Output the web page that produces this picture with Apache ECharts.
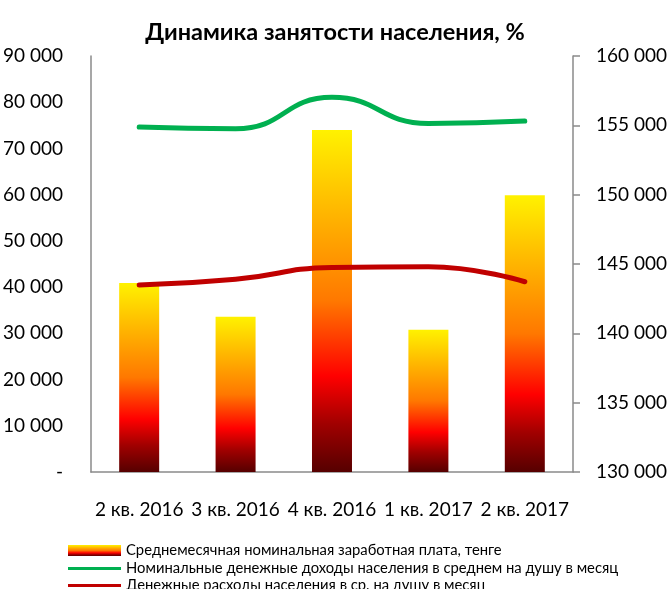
<!DOCTYPE html>
<html>
<head>
<meta charset="utf-8">
<script src="https://cdn.jsdelivr.net/npm/echarts@6/dist/echarts.min.js"></script>
<style>
  html, body { margin: 0; padding: 0; background: #fff; }
  #chart { width: 670px; height: 589px; }
</style>
</head>
<body>
<div id="chart"></div>
<script>
// данные графика
const categories = ['2 кв. 2016', '3 кв. 2016', '4 кв. 2016', '1 кв. 2017', '2 кв. 2017'];
const salary = [40900, 33600, 74000, 30800, 59900];
const income = [154880, 154750, 157020, 155130, 155310];
const expenses = [143480, 143900, 144750, 144800, 143720];

const seriesNames = [
  'Среднемесячная номинальная заработная плата, тенге',
  'Номинальные денежные доходы населения в среднем на душу в месяц',
  'Денежные расходы населения в ср. на душу в месяц'
];

const font = 'Lato, "Noto Sans", sans-serif';

function fmt(v) {
  if (v === 0) return '-';
  return String(v).replace(/\B(?=(\d{3})+(?!\d))/g, ' ');
}

const barGradient = new echarts.graphic.LinearGradient(0, 0, 0, 1, [
  { offset: 0, color: '#fff200' },
  { offset: 0.25, color: '#ffb400' },
  { offset: 0.5, color: '#ff7800' },
  { offset: 0.72, color: '#ff0000' },
  { offset: 0.86, color: '#a00000' },
  { offset: 1, color: '#560000' }
]);

// одна легенда на строку, чтобы не переносилась в колонку
function legendRow(name, top, iconHeight) {
  return {
    orient: 'horizontal',
    left: 68,
    top: top,
    padding: 0,
    icon: 'rect',
    itemWidth: 53,
    itemHeight: iconHeight,
    textStyle: { fontFamily: font, fontSize: 14.8, color: '#000' },
    data: [name]
  };
}

let myChart = echarts.init(document.getElementById('chart'));
let option = {
  animation: false,
  title: {
    text: 'Динамика занятости населения, %',
    left: 'center',
    top: 15,
    textStyle: { fontFamily: font, fontSize: 23.5, fontWeight: 'bold', color: '#000' }
  },
  legend: [
    legendRow(seriesNames[0], 543, 11),
    legendRow(seriesNames[1], 561, 3),
    legendRow(seriesNames[2], 578, 3)
  ],
  grid: { left: 88, right: 96, top: 56, bottom: 117 },
  xAxis: {
    type: 'category',
    data: categories,
    axisTick: { show: false },
    axisLine: { lineStyle: { color: '#8a8a8a', width: 1.5 } },
    axisLabel: { fontFamily: font, fontSize: 19, color: '#000', margin: 28, interval: 0 }
  },
  yAxis: [
    {
      type: 'value',
      min: 0,
      max: 90000,
      interval: 10000,
      splitLine: { show: false },
      axisTick: { show: false },
      axisLine: { show: true, lineStyle: { color: '#8a8a8a', width: 1.5 } },
      axisLabel: { fontFamily: font, fontSize: 19, color: '#000', margin: 28, formatter: fmt }
    },
    {
      type: 'value',
      min: 130000,
      max: 160000,
      interval: 5000,
      position: 'right',
      splitLine: { show: false },
      axisTick: { show: true, length: 7, lineStyle: { color: '#8a8a8a', width: 1.5 } },
      axisLine: { show: true, lineStyle: { color: '#8a8a8a', width: 1.5 } },
      axisLabel: { fontFamily: font, fontSize: 19, color: '#000', margin: 23, formatter: fmt }
    }
  ],
  series: [
    {
      name: seriesNames[0],
      type: 'bar',
      data: salary,
      barWidth: 40,
      itemStyle: { color: barGradient }
    },
    {
      name: seriesNames[1],
      type: 'line',
      yAxisIndex: 1,
      data: income,
      smooth: 0.5,
      symbol: 'none',
      lineStyle: { color: '#00b050', width: 5, cap: 'round' },
      itemStyle: { color: '#00b050' }
    },
    {
      name: seriesNames[2],
      type: 'line',
      yAxisIndex: 1,
      data: expenses,
      smooth: 0.5,
      symbol: 'none',
      lineStyle: { color: '#c00000', width: 5, cap: 'round' },
      itemStyle: { color: '#c00000' }
    }
  ]
};
option && myChart.setOption(option);
</script>
</body>
</html>
